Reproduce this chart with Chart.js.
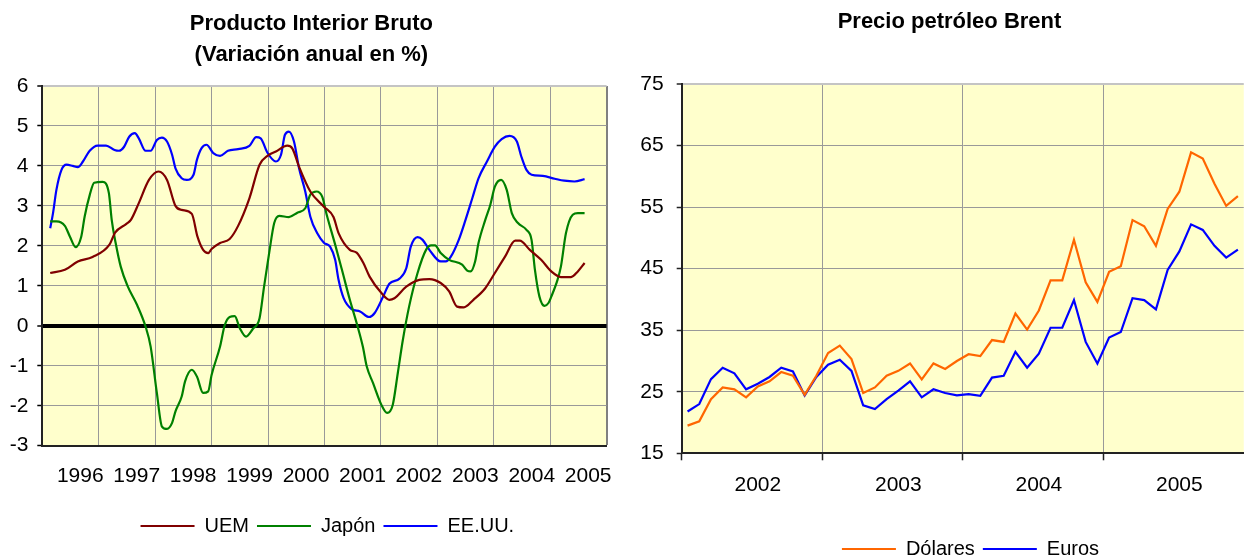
<!DOCTYPE html>
<html><head><meta charset="utf-8">
<script src="https://cdn.jsdelivr.net/npm/chart.js@4.4.1/dist/chart.umd.min.js"></script>
<style>
html,body{margin:0;padding:0;background:#fff;overflow:hidden;width:1249px;height:558px;position:relative}
#c1{position:absolute;left:0;top:0}
#c2{position:absolute;left:625px;top:0}
</style></head><body>
<canvas id="c1" width="625" height="558"></canvas>
<canvas id="c2" width="625" height="580"></canvas>
<script>
// ---------- PIB (variación anual en %) ----------
const gdpYears = [1996,1997,1998,1999,2000,2001,2002,2003,2004,2005];
const uemX = [1996.14,1996.40,1996.63,1996.89,1997.19,1997.29,1997.49,1997.57,1997.71,1997.89,1998.06,1998.21,1998.36,1998.47,1998.65,1998.75,1998.85,1998.94,1999.00,1999.15,1999.32,1999.47,1999.67,1999.85,1999.99,2000.14,2000.34,2000.43,2000.55,2000.75,2000.99,2001.16,2001.25,2001.45,2001.57,2001.69,2001.80,2002.01,2002.15,2002.24,2002.45,2002.68,2002.86,2003.06,2003.21,2003.35,2003.47,2003.64,2003.85,2004.02,2004.20,2004.38,2004.46,2004.64,2004.84,2005.02,2005.19,2005.37,2005.49,2005.61];
const uemY = [1.32,1.40,1.61,1.72,2.03,2.33,2.55,2.65,3.07,3.65,3.86,3.65,3.00,2.90,2.80,2.23,1.90,1.82,1.92,2.07,2.17,2.50,3.19,4.03,4.25,4.36,4.51,4.44,3.98,3.36,2.98,2.72,2.32,1.90,1.83,1.57,1.23,0.82,0.65,0.69,0.98,1.15,1.17,1.07,0.86,0.48,0.46,0.65,0.94,1.32,1.73,2.13,2.13,1.90,1.65,1.36,1.22,1.22,1.36,1.57];
const japX = [1996.14,1996.25,1996.40,1996.49,1996.59,1996.69,1996.75,1996.84,1996.92,1997.07,1997.18,1997.23,1997.30,1997.39,1997.51,1997.68,1997.83,1997.92,1998.03,1998.12,1998.21,1998.30,1998.36,1998.47,1998.53,1998.65,1998.74,1998.85,1998.94,1999.00,1999.15,1999.23,1999.32,1999.41,1999.50,1999.61,1999.73,1999.85,1999.93,2000.02,2000.11,2000.20,2000.37,2000.52,2000.66,2000.75,2000.86,2000.96,2001.04,2001.19,2001.31,2001.45,2001.57,2001.68,2001.75,2001.86,2002.01,2002.11,2002.21,2002.30,2002.39,2002.50,2002.65,2002.80,2002.89,2002.96,2003.06,2003.21,2003.44,2003.53,2003.59,2003.67,2003.73,2003.85,2003.94,2004.02,2004.13,2004.23,2004.32,2004.43,2004.58,2004.67,2004.73,2004.81,2004.90,2004.97,2005.02,2005.13,2005.19,2005.28,2005.40,2005.49,2005.61];
const japY = [2.61,2.61,2.50,2.23,1.97,2.23,2.73,3.27,3.58,3.60,3.32,2.65,2.07,1.48,1.00,0.52,-0.02,-0.52,-1.68,-2.52,-2.58,-2.43,-2.14,-1.77,-1.39,-1.10,-1.27,-1.68,-1.64,-1.23,-0.52,0.00,0.22,0.24,-0.06,-0.27,-0.08,0.19,0.98,1.82,2.57,2.75,2.72,2.83,2.94,3.28,3.36,3.23,2.78,2.03,1.40,0.65,0.07,-0.52,-1.02,-1.43,-1.98,-2.18,-1.98,-1.18,-0.35,0.48,1.32,1.90,2.01,2.01,1.82,1.65,1.53,1.38,1.36,1.61,2.07,2.65,3.03,3.48,3.65,3.40,2.82,2.57,2.40,2.15,1.40,0.73,0.50,0.57,0.73,1.15,1.48,2.32,2.78,2.82,2.82];
const usaX = [1996.14,1996.19,1996.25,1996.34,1996.43,1996.54,1996.63,1996.72,1996.84,1996.98,1997.13,1997.28,1997.36,1997.45,1997.54,1997.64,1997.71,1997.83,1997.92,1998.03,1998.12,1998.21,1998.30,1998.36,1998.47,1998.56,1998.68,1998.74,1998.82,1998.91,1999.03,1999.15,1999.29,1999.47,1999.67,1999.79,1999.87,1999.99,2000.14,2000.23,2000.30,2000.37,2000.46,2000.55,2000.66,2000.75,2000.87,2000.99,2001.10,2001.19,2001.25,2001.34,2001.48,2001.63,2001.79,2001.89,2002.04,2002.15,2002.33,2002.45,2002.53,2002.65,2002.74,2002.86,2003.06,2003.15,2003.24,2003.38,2003.50,2003.62,2003.73,2003.88,2004.02,2004.14,2004.28,2004.41,2004.49,2004.58,2004.67,2004.87,2005.08,2005.25,2005.43,2005.61];
const usaY = [2.44,2.82,3.40,3.90,4.03,4.00,3.97,4.11,4.38,4.51,4.51,4.40,4.38,4.48,4.73,4.82,4.69,4.38,4.38,4.65,4.71,4.61,4.28,3.94,3.69,3.65,3.78,4.15,4.44,4.53,4.32,4.25,4.38,4.42,4.50,4.72,4.69,4.33,4.11,4.28,4.78,4.86,4.61,3.94,3.36,2.73,2.32,2.08,1.98,1.65,1.15,0.69,0.42,0.36,0.22,0.32,0.73,1.05,1.18,1.44,1.98,2.22,2.15,1.90,1.61,1.61,1.73,2.15,2.65,3.19,3.69,4.11,4.48,4.67,4.75,4.61,4.23,3.90,3.78,3.75,3.68,3.63,3.61,3.67];

// ---------- Precio petróleo Brent ----------
const brentYears = ['2002','2003','2004','2005'];
const monthNames = ['ene','feb','mar','abr','may','jun','jul','ago','sep','oct','nov','dic'];
const dolares = [19.5,20.2,23.8,25.7,25.4,24.1,25.85,26.7,28.2,27.6,24.5,27.6,
                 31.3,32.5,30.3,24.8,25.7,27.6,28.4,29.6,27.0,29.6,28.7,30.0,
                 31.1,30.8,33.4,33.1,37.7,35.1,38.2,43.1,43.1,49.7,42.8,39.6,
                 44.5,45.4,52.9,51.9,48.7,54.7,57.5,63.9,62.9,58.8,55.2,56.8];
const euros   = [21.8,23.0,27.05,28.9,28.0,25.4,26.3,27.4,28.9,28.3,24.4,27.4,
                 29.4,30.2,28.4,22.8,22.2,23.8,25.2,26.7,24.1,25.4,24.8,24.4,
                 24.6,24.35,27.3,27.6,31.5,28.9,31.2,35.4,35.4,39.9,33.1,29.6,
                 33.8,34.7,40.2,39.9,38.4,44.8,47.8,52.2,51.3,48.7,46.8,48.1];

Chart.defaults.font.family = '"Liberation Sans", Arial, sans-serif';
Chart.defaults.color = '#000';

const gridGray = '#999999';
const topBorder = '#c4c4c4';
const rightBorder = '#808080';
const axisDark = '#222';

const plotBg = { id:'plotBg', beforeDraw(chart){ const {ctx, chartArea:a} = chart; ctx.save(); ctx.fillStyle='#FFFFCC'; ctx.fillRect(a.left,a.top,a.right-a.left,a.bottom-a.top); ctx.restore(); } };
const shiftBoxes = (titleDx, legendDx) => ({ id:'shiftBoxes', afterLayout(chart){
  if (chart.titleBlock){ chart.titleBlock.left += titleDx; chart.titleBlock.right += titleDx; }
  if (chart.legend){ chart.legend.left += legendDx; chart.legend.right += legendDx; }
}});
function legendLabels(chart){
  const items = Chart.defaults.plugins.legend.labels.generateLabels(chart);
  items.forEach(it => { it.fillStyle = it.strokeStyle; it.lineWidth = 0; });
  return items;
}
const pts = (xs, ys) => xs.map((x,i) => ({x, y: ys[i]}));
const gdpMax = gdpYears[gdpYears.length-1] + 1;

new Chart(document.getElementById('c1'), {
  type:'line',
  data:{ datasets:[
    {label:'UEM', data:pts(uemX,uemY), borderColor:'#800000', backgroundColor:'#800000', borderWidth:2.2, pointRadius:0, cubicInterpolationMode:'monotone', fill:false},
    {label:'Japón', data:pts(japX,japY), borderColor:'#008000', backgroundColor:'#008000', borderWidth:2.2, pointRadius:0, cubicInterpolationMode:'monotone', fill:false},
    {label:'EE.UU.', data:pts(usaX,usaY), borderColor:'#0000FF', backgroundColor:'#0000FF', borderWidth:2.2, pointRadius:0, cubicInterpolationMode:'monotone', fill:false}
  ]},
  options:{
    responsive:false, animation:false, devicePixelRatio:1,
    layout:{padding:{left:0,right:12.3,top:0,bottom:12}},
    plugins:{
      title:{display:true, text:['Producto Interior Bruto','(Variación anual en %)'], color:'#000', font:{size:22, weight:'bold', lineHeight:1.42}, padding:{top:8.2,bottom:15.3}},
      legend:{position:'bottom', labels:{boxWidth:54, boxHeight:2, padding:8, color:'#000', font:{size:20}, generateLabels:legendLabels}},
      tooltip:{enabled:false}
    },
    scales:{
      x:{type:'linear', min:gdpYears[0], max:gdpMax,
         afterFit(s){ s.height = 62.3; },
         grid:{color:c => (c.tick && c.tick.value === gdpMax) ? rightBorder : gridGray,
               lineWidth:c => (c.tick && c.tick.value === gdpMax) ? 2 : 1, drawTicks:false},
         border:{display:true, color:axisDark, width:2},
         ticks:{stepSize:1, autoSkip:false, maxRotation:0, padding:18.4, labelOffset:38, color:'#000', font:{size:21},
                callback:(v) => gdpYears.includes(v) ? String(v) : ''}},
      y:{min:-3, max:6,
         afterFit(s){ s.width = 42.3; },
         grid:{color:c => !c.tick ? gridGray : c.tick.value === 0 ? '#000' : c.tick.value === 6 ? topBorder : gridGray,
               lineWidth:c => !c.tick ? 1 : c.tick.value === 0 ? 4 : c.tick.value === 6 ? 2 : 1,
               tickColor:'#000', tickLength:5, tickWidth:1.5},
         border:{color:axisDark, width:2},
         ticks:{stepSize:1, padding:8.8, color:'#000', font:{size:21}}}
    }
  },
  plugins:[plotBg, shiftBoxes(5, 21)]
});

const brentLabels = brentYears.flatMap(y => monthNames.map(m => m + '-' + y.slice(2)));
new Chart(document.getElementById('c2'), {
  type:'line',
  data:{ labels:brentLabels, datasets:[
    {label:'Dólares', data:dolares, borderColor:'#FF6600', backgroundColor:'#FF6600', borderWidth:2.2, pointRadius:0, tension:0, fill:false},
    {label:'Euros', data:euros, borderColor:'#0000FF', backgroundColor:'#0000FF', borderWidth:2.2, pointRadius:0, tension:0, fill:false}
  ]},
  options:{
    responsive:false, animation:false, devicePixelRatio:1,
    layout:{padding:{left:0,right:0,top:0,bottom:11}},
    plugins:{
      title:{display:true, text:'Precio petróleo Brent', color:'#000', font:{size:22, weight:'bold', lineHeight:1.42}, padding:{top:6.5,bottom:46.3}},
      legend:{position:'bottom', labels:{boxWidth:54, boxHeight:2, padding:8, color:'#000', font:{size:20}, generateLabels:legendLabels}},
      tooltip:{enabled:false}
    },
    scales:{
      x:{type:'category', offset:true,
         afterFit(s){ s.height = 77.7; },
         grid:{offset:true, color:c => c.index % 12 === 0 ? gridGray : 'transparent',
               tickColor:c => c.index % 12 === 0 ? axisDark : 'transparent', tickLength:7, tickWidth:1.5, lineWidth:1},
         border:{color:axisDark, width:2},
         ticks:{autoSkip:false, maxRotation:0, padding:12.1, color:'#000', font:{size:21},
                callback:(v,i) => i % 12 === 6 ? brentYears[Math.floor(i/12)] : ''}},
      y:{min:15, max:75,
         afterFit(s){ s.width = 56.7; },
         grid:{color:c => (c.tick && c.tick.value === 75) ? topBorder : gridGray,
               lineWidth:c => (c.tick && c.tick.value === 75) ? 2 : 1,
               tickColor:axisDark, tickLength:5, tickWidth:1.5},
         border:{color:axisDark, width:2},
         ticks:{stepSize:10, padding:13, color:'#000', font:{size:21}}}
    }
  },
  plugins:[plotBg, shiftBoxes(12, 33)]
});
</script></body></html>
